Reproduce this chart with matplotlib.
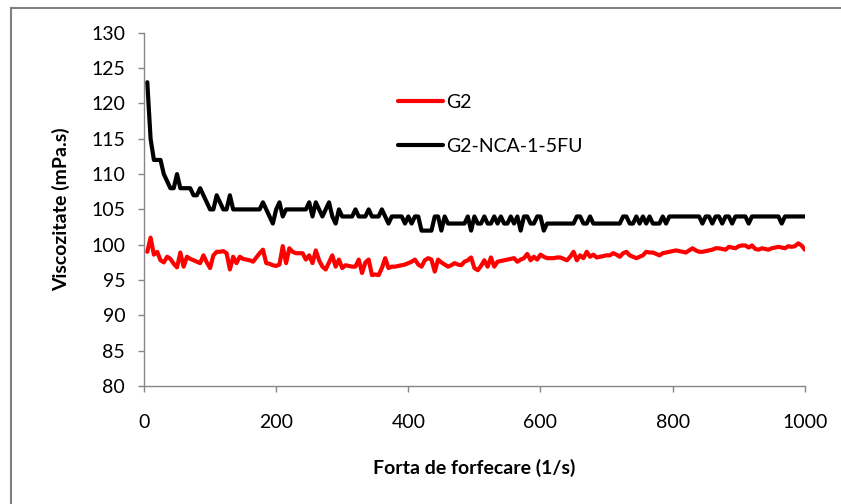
import matplotlib
matplotlib.use("Agg")
import matplotlib.pyplot as plt
from matplotlib.lines import Line2D
import numpy as np

# shear rate (1/s): 5 ... 1000, step 5
shear_rate = np.arange(5, 1001, 5)

# viscosity of G2 (mPa.s), ten readings per row
visc_g2 = [
    99.0, 101.0, 98.6, 99.0, 97.8, 97.5, 98.3, 98.0, 97.3, 96.8,
    98.9, 96.9, 98.3, 98.0, 97.8, 97.6, 97.4, 98.5, 97.5, 96.7,
    98.5, 99.0, 99.0, 99.1, 98.8, 96.5, 98.3, 97.4, 98.3, 98.0,
    97.9, 97.8, 97.6, 98.2, 98.8, 99.3, 97.4, 97.3, 97.1, 97.0,
    97.2, 99.8, 97.4, 99.5, 99.0, 98.8, 98.8, 98.8, 97.9, 98.5,
    97.4, 99.2, 97.8, 96.9, 96.5, 97.5, 98.5, 96.9, 97.9, 96.7,
    97.1, 97.0, 96.9, 96.9, 97.9, 96.0, 97.5, 97.9, 95.7, 95.8,
    95.7, 96.7, 98.1, 96.7, 96.9, 96.9, 97.0, 97.1, 97.2, 97.4,
    97.6, 97.9, 97.2, 96.9, 97.8, 98.1, 97.9, 96.2, 97.9, 97.5,
    97.2, 96.9, 97.1, 97.4, 97.2, 97.1, 97.6, 97.8, 98.2, 96.7,
    96.4, 97.0, 97.8, 96.9, 98.2, 96.9, 97.6, 97.7, 97.8, 97.9,
    98.0, 98.1, 97.6, 97.9, 98.1, 98.7, 97.8, 98.3, 97.9, 98.6,
    98.3, 98.1, 98.1, 98.1, 98.2, 98.2, 98.0, 97.8, 98.3, 99.0,
    97.8, 98.5, 98.1, 99.0, 98.3, 98.6, 98.2, 98.3, 98.4, 98.5,
    98.5, 98.8, 98.6, 98.3, 98.8, 99.0, 98.5, 98.3, 98.1, 98.3,
    98.5, 99.0, 98.9, 98.9, 98.7, 98.5, 98.8, 98.9, 99.0, 99.1,
    99.2, 99.1, 99.0, 98.9, 99.2, 99.5, 99.2, 99.0, 99.0, 99.1,
    99.2, 99.3, 99.5, 99.5, 99.4, 99.3, 99.7, 99.6, 99.5, 99.8,
    99.9, 99.9, 99.6, 99.9, 99.4, 99.3, 99.5, 99.4, 99.3, 99.5,
    99.6, 99.7, 99.6, 99.5, 99.8, 99.7, 99.8, 100.2, 99.9, 99.3,
]

# viscosity of G2-NCA-1-5FU (mPa.s)
visc_nca = [
    123, 115, 112, 112, 112, 110, 109, 108, 108, 110,
    108, 108, 108, 108, 107, 107, 108, 107, 106, 105,
    105, 107, 106, 105, 105, 107, 105, 105, 105, 105,
    105, 105, 105, 105, 105, 106, 105, 104, 103, 105,
    106, 104, 105, 105, 105, 105, 105, 105, 105, 106,
    104, 106, 105, 104, 105, 106, 104, 103, 105, 104,
    104, 104, 104, 105, 104, 104, 104, 105, 104, 104,
    104, 105, 104, 103, 104, 104, 104, 104, 103, 104,
    103, 104, 104, 102, 102, 102, 102, 104, 104, 102,
    104, 103, 103, 103, 103, 103, 103, 104, 102, 104,
    103, 103, 104, 103, 103, 104, 103, 104, 103, 103,
    104, 103, 104, 102, 104, 104, 103, 103, 104, 104,
    102, 103, 103, 103, 103, 103, 103, 103, 103, 103,
    104, 104, 103, 103, 104, 103, 103, 103, 103, 103,
    103, 103, 103, 103, 104, 104, 103, 103, 104, 103,
    104, 103, 104, 103, 103, 103, 104, 103, 104, 104,
    104, 104, 104, 104, 104, 104, 104, 104, 103, 104,
    104, 103, 104, 104, 103, 104, 104, 103, 104, 104,
    104, 104, 103, 104, 104, 104, 104, 104, 104, 104,
    104, 104, 103, 104, 104, 104, 104, 104, 104, 104,
]

x_ticks = [0, 200, 400, 600, 800, 1000]
y_ticks = [80, 85, 90, 95, 100, 105, 110, 115, 120, 125, 130]

plt.rcParams['font.family'] = ['Lato', 'DejaVu Sans']
grey = '#868686'
fs = 14

fig = plt.figure(figsize=(8.41, 5.04), dpi=100)
ax = fig.add_axes([0.1712, 0.234, 0.957 - 0.1712, 0.935 - 0.234])

ax.plot(shear_rate, visc_g2, color='#ff0000', lw=3.0, label='G2',
        solid_joinstyle='round', solid_capstyle='round')
ax.plot(shear_rate, visc_nca, color='black', lw=3.0, label='G2-NCA-1-5FU',
        solid_joinstyle='round', solid_capstyle='round')

ax.set_xlim(0, 1000)
ax.set_ylim(80, 130)
ax.set_xticks(x_ticks)
ax.set_yticks(y_ticks)

for side in ('top', 'right'):
    ax.spines[side].set_visible(False)
for side in ('left', 'bottom'):
    ax.spines[side].set_color(grey)
    ax.spines[side].set_linewidth(1.0)

ax.tick_params(axis='y', direction='out', length=4, width=1, color=grey,
               pad=9.5, labelsize=fs)
ax.tick_params(axis='x', direction='out', length=4, width=1, color=grey,
               pad=16, labelsize=fs)

ax.set_xlabel('Forta de forfecare (1/s)', fontsize=fs, fontweight='bold',
              labelpad=20)
ax.set_ylabel('Viscozitate (mPa.s)', fontsize=fs, fontweight='bold',
              labelpad=15)

ax.legend(loc='upper left', bbox_to_anchor=(0.4524, 0.849),
          bbox_transform=fig.transFigure, frameon=False, fontsize=fs,
          handlelength=2.3, handletextpad=0.2, labelspacing=1.42)

# outer frame of the chart area (runs off the right and bottom edges)
fig.add_artist(Line2D([0.013, 0.013], [0.0, 0.984], color='#808080', lw=1.5,
                      transform=fig.transFigure))
fig.add_artist(Line2D([0.013, 1.0], [0.984, 0.984], color='#808080', lw=1.5,
                      transform=fig.transFigure))

fig.savefig('out.png', dpi=100)
